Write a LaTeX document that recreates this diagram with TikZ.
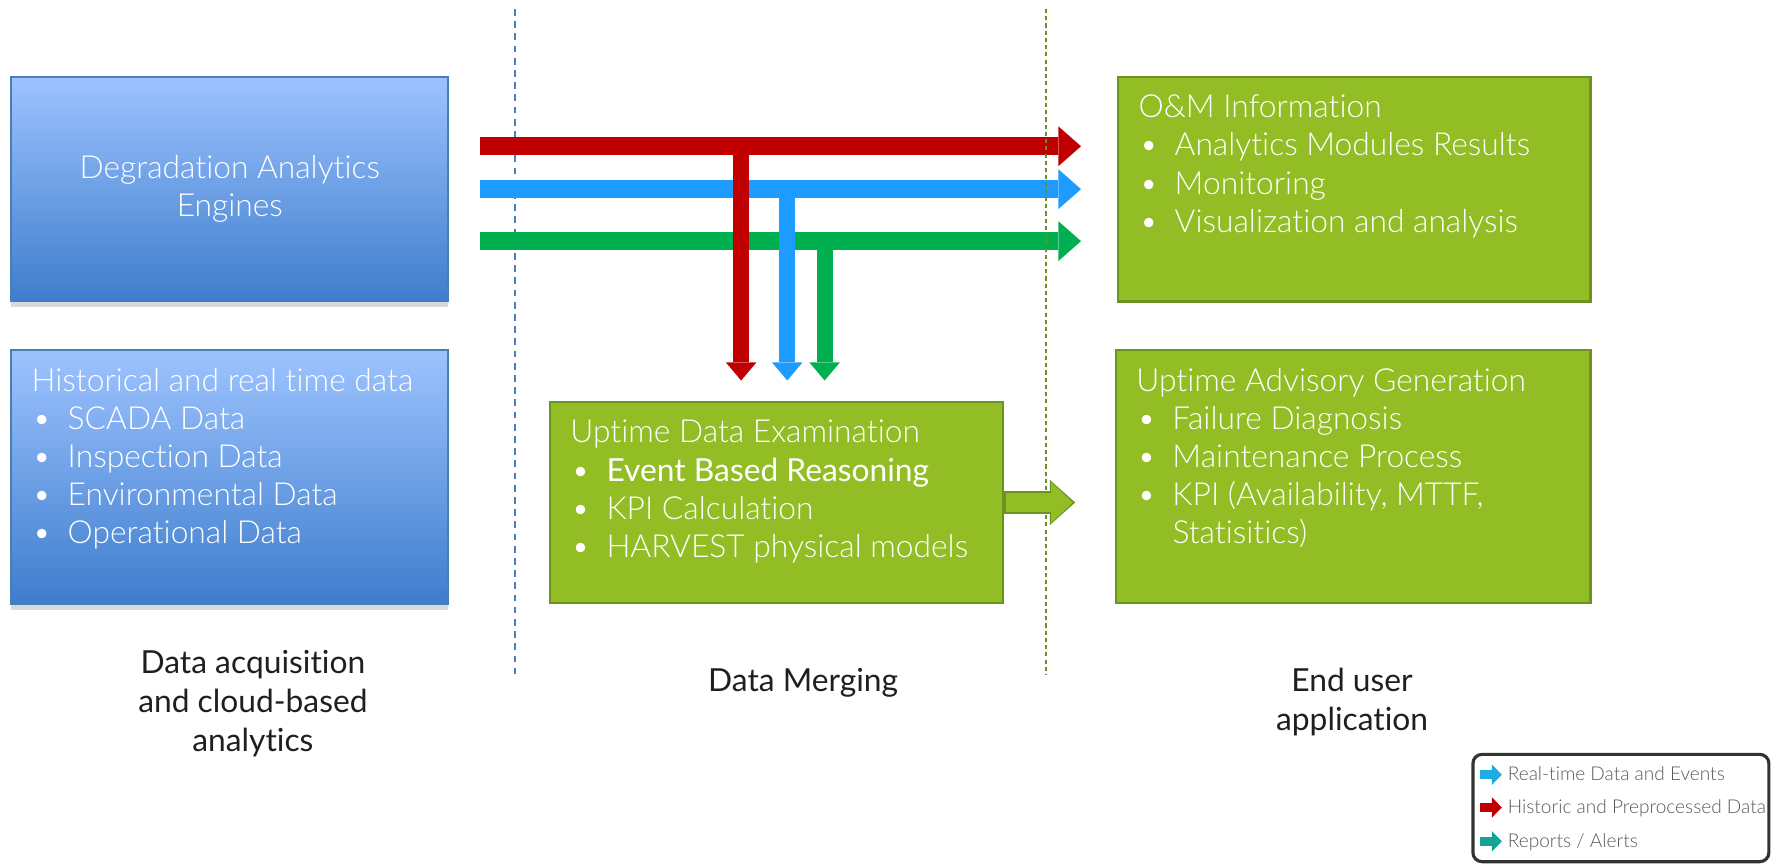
\documentclass[tikz,border=0pt]{standalone}
\usepackage{fontspec}
\setmainfont{Lato Light}[Ligatures=NoCommon]
\newfontfamily\regularfont{Lato}[Ligatures=NoCommon]
\usepackage{tikz}
\usetikzlibrary{arrows.meta, shadows}

\definecolor{bluetop}{HTML}{9DC3FF}
\definecolor{bluebottom}{HTML}{3E7DCC}
\definecolor{blueline}{HTML}{4A7EBB}
\definecolor{boxgreen}{HTML}{92BD24}
\definecolor{greenline}{HTML}{6A9320}
\definecolor{oliveline}{HTML}{6B8E23}
\definecolor{arrowred}{HTML}{C00000}
\definecolor{arrowblue}{HTML}{1E9BFF}
\definecolor{arrowgreen}{HTML}{00B050}
\definecolor{stagetext}{HTML}{1F1F1F}
\definecolor{legendline}{HTML}{333333}
\definecolor{legendtext}{HTML}{595959}
\definecolor{legendcyan}{HTML}{1CADE4}
\definecolor{legendteal}{HTML}{14A395}

\newcommand{\listentry}[1]{\par\noindent\hangindent=0.8cm\makebox[0.8cm][l]{\hspace{0.02cm}\textbullet}#1}

\begin{document}
\begin{tikzpicture}[node distance=2cm, font=\fontsize{20}{24}\selectfont]
\tikzstyle{bluebox} = [rectangle, draw=blueline, line width=0.04cm, top color=bluetop, bottom color=bluebottom, text=white, inner xsep=0.45cm, inner ysep=0.38cm, drop shadow={shadow xshift=0cm, shadow yshift=-0.12cm, opacity=0.3}]
\tikzstyle{greenbox} = [rectangle, draw=greenline, line width=0.05cm, fill=boxgreen, text=white, inner xsep=0.45cm, inner ysep=0.38cm]
\tikzstyle{stage} = [align=center, text=stagetext, font=\regularfont\fontsize{20}{24.5}\selectfont]
\tikzstyle{bigarrow} = [line width=0.4cm, -{Triangle[line width=0pt, length=0.5cm, width=0.88cm]}, shorten <=0.675cm, shorten >=0.8cm]
\tikzstyle{splitarrow} = [line width=0.35cm, -{Triangle[line width=0pt, length=0.4cm, width=0.675cm]}, shorten >=0.45cm]
\tikzstyle{legendbox} = [rectangle, rounded corners=0.2cm, draw=legendline, line width=0.07cm, minimum width=6.55cm, minimum height=2.375cm]
\tikzstyle{legtext} = [anchor=west, inner sep=0pt, text=legendtext, font=\fontsize{12}{14}\selectfont, text height=1.45ex, text depth=0pt]
\tikzstyle{legendarrow} = [line width=0.2cm, -{Triangle[line width=0pt, length=0.22cm, width=0.45cm]}]

\useasboundingbox (0,0) rectangle (39.2,-19.15);

\node (engines) [bluebox, minimum width=9.675cm, minimum height=4.975cm, align=center] at (5.0875,-4.1875) {Degradation Analytics\\Engines};
\node (hist) [bluebox, below of=engines, yshift=-4.375cm] {\parbox[c][4.865cm][t]{8.775cm}{\rule{0pt}{15pt}Historical and real time data
\listentry{SCADA Data}
\listentry{Inspection Data}
\listentry{Environmental Data}
\listentry{Operational Data}}};
\node (om) [greenbox, right of=engines, xshift=22.89cm] {\parbox[c][4.215cm][t]{9.55cm}{\rule{0pt}{15pt}O\&M Information
\listentry{Analytics Modules Results}
\listentry{Monitoring}
\listentry{Visualization and analysis}}};
\node (advisory) [greenbox, below of=om, xshift=-0.025cm, yshift=-4.36cm] {\parbox[c][4.84cm][t]{9.6cm}{\rule{0pt}{15pt}Uptime Advisory Generation
\listentry{Failure Diagnosis}
\listentry{Maintenance Process}
\listentry{KPI (Availability, MTTF,\newline Statisitics)}}};
\node (merging) [greenbox, right of=hist, xshift=10.1cm, yshift=-0.56cm] {\parbox[c][3.69cm][t]{9.125cm}{\rule{0pt}{15pt}Uptime Data Examination
\listentry{{\regularfont Event Based Reasoning}}
\listentry{KPI Calculation}
\listentry{HARVEST physical models}}};

\node (acq) [stage, below of=hist, xshift=0.51cm, yshift=-3.01cm] {Data acquisition\\and cloud-based\\analytics};
\node (mergelabel) [stage, below of=merging, xshift=0.59cm, yshift=-2cm] {Data Merging};
\node (enduser) [stage, below of=advisory, xshift=-0.025cm, yshift=-2.99cm] {End user\\application};

% stage borders
\draw [blueline, line width=0.04cm, dash pattern=on 0.15cm off 0.12cm] (11.4,-0.2) -- (11.4,-14.925);

\draw [bigarrow, arrowred] ([yshift=0.95cm]engines.east) -- coordinate[pos=0.437] (redsplit) ([yshift=0.95cm]om.west);
\draw [bigarrow, arrowblue] (engines.east) -- coordinate[pos=0.506] (bluesplit) (om.west);
\draw [bigarrow, arrowgreen] ([yshift=-1.15cm]engines.east) -- coordinate[pos=0.562] (greensplit) ([yshift=-1.15cm]om.west);
\draw [splitarrow, arrowred] (redsplit) -- (redsplit |- merging.north);
\draw [splitarrow, arrowblue] (bluesplit) -- (bluesplit |- merging.north);
\draw [splitarrow, arrowgreen] (greensplit) -- (greensplit |- merging.north);

\draw [oliveline, line width=0.045cm, dash pattern=on 0.09cm off 0.07cm] (23.15,-0.2) -- (23.15,-14.925);

\draw [greenline, line width=0.5cm, -{Triangle[line width=0pt, length=0.56cm, width=1.0cm]}, shorten >=0.88cm] (merging.east) -- (merging.east -| advisory.west);
\draw [boxgreen, line width=0.42cm, -{Triangle[line width=0pt, length=0.48cm, width=0.9cm]}, shorten >=0.93cm, shorten <=0.04cm] (merging.east) -- (merging.east -| advisory.west);

% legend
\node (legend) [legendbox, below of=advisory, xshift=5.925cm, yshift=-5.3375cm] {};
\node (lreal) [legtext] at ([xshift=0.8cm, yshift=0.7375cm]legend.west) {Real-time Data and Events};
\node (lhist) [legtext] at ([xshift=0.8cm, yshift=0.0125cm]legend.west) {Historic and Preprocessed Data};
\node (lalert) [legtext] at ([xshift=0.8cm, yshift=-0.7375cm]legend.west) {Reports / Alerts};
\draw [legendarrow, legendcyan] ([xshift=-0.6cm]lreal.west) -- ([xshift=-0.125cm]lreal.west);
\draw [legendarrow, arrowred] ([xshift=-0.6cm]lhist.west) -- ([xshift=-0.125cm]lhist.west);
\draw [legendarrow, legendteal] ([xshift=-0.6cm]lalert.west) -- ([xshift=-0.125cm]lalert.west);
\end{tikzpicture}
\end{document}
